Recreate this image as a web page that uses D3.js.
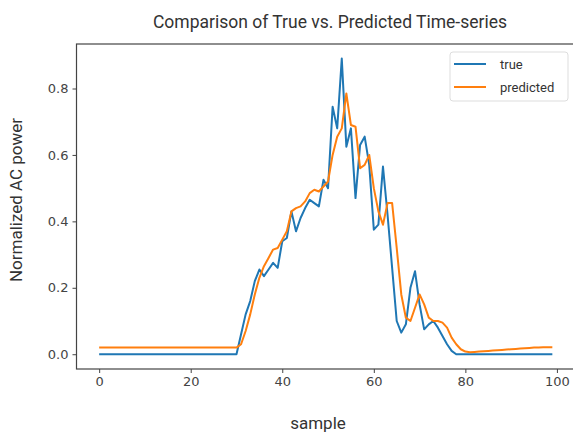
<!DOCTYPE html>
<html>
<head>
<meta charset="utf-8">
<script src="https://cdn.jsdelivr.net/npm/d3@7"></script>
<style>
  body { margin: 0; background: #fff; }
  svg { display: block; }
</style>
</head>
<body>
<svg id="chart"></svg>
<script>
// values, one per sample (0..99)
var trueVals = [
  0, 0, 0, 0, 0, 0, 0, 0, 0, 0,
  0, 0, 0, 0, 0, 0, 0, 0, 0, 0,
  0, 0, 0, 0, 0, 0, 0, 0, 0, 0,
  0, 0.06, 0.12, 0.16, 0.22, 0.255, 0.235, 0.255, 0.275, 0.26,
  0.34, 0.35, 0.43, 0.37, 0.41, 0.44, 0.465, 0.455, 0.445, 0.525,
  0.50, 0.745, 0.68, 0.89, 0.625, 0.68, 0.47, 0.63, 0.655, 0.57,
  0.375, 0.39, 0.565, 0.42, 0.26, 0.10, 0.065, 0.09, 0.20, 0.25,
  0.15, 0.075, 0.09, 0.10, 0.08, 0.055, 0.03, 0.01, 0, 0,
  0, 0, 0, 0, 0, 0, 0, 0, 0, 0,
  0, 0, 0, 0, 0, 0, 0, 0, 0, 0
];
var predVals = [
  0.02, 0.02, 0.02, 0.02, 0.02, 0.02, 0.02, 0.02, 0.02, 0.02,
  0.02, 0.02, 0.02, 0.02, 0.02, 0.02, 0.02, 0.02, 0.02, 0.02,
  0.02, 0.02, 0.02, 0.02, 0.02, 0.02, 0.02, 0.02, 0.02, 0.02,
  0.02, 0.03, 0.07, 0.12, 0.18, 0.23, 0.265, 0.29, 0.315, 0.32,
  0.345, 0.37, 0.43, 0.44, 0.445, 0.46, 0.485, 0.495, 0.49, 0.505,
  0.52, 0.60, 0.655, 0.68, 0.785, 0.69, 0.685, 0.56, 0.57, 0.60,
  0.50, 0.43, 0.39, 0.455, 0.455, 0.32, 0.18, 0.11, 0.10, 0.14,
  0.18, 0.15, 0.11, 0.10, 0.10, 0.095, 0.08, 0.05, 0.03, 0.015,
  0.008, 0.006, 0.007, 0.008, 0.009, 0.01, 0.011, 0.012, 0.013, 0.014,
  0.015, 0.016, 0.017, 0.018, 0.019, 0.02, 0.02, 0.021, 0.021, 0.021
];
var xTicks = [0, 20, 40, 60, 80, 100];
var yTicks = [0.0, 0.2, 0.4, 0.6, 0.8];
var seriesNames = ["true", "predicted"];
var seriesColors = ["#1f77b4", "#ff7f0e"];

var svgWidth = 573, svgHeight = 433;
var margin = {left: 76.5, right: 575, top: 44, bottom: 369};

var svg = d3.select("#chart")
    .attr("width", svgWidth)
    .attr("height", svgHeight);

var x = d3.scaleLinear().domain([-4.95, 103.95]).range([margin.left, margin.right]);
var y = d3.scaleLinear().domain([-0.0445, 0.934]).range([margin.bottom, margin.top]);

// frame
svg.append("rect")
    .attr("x", margin.left).attr("y", margin.top)
    .attr("width", margin.right - margin.left).attr("height", margin.bottom - margin.top)
    .attr("fill", "none")
    .attr("stroke", "#444")
    .attr("stroke-width", 1.2);

var tickFont = "'DejaVu Sans', sans-serif";

var xAxis = svg.append("g")
    .attr("transform", "translate(0," + margin.bottom + ")")
    .call(d3.axisBottom(x).tickValues(xTicks).tickSize(4).tickPadding(4).tickFormat(d3.format("d")));
xAxis.select(".domain").remove();
xAxis.selectAll("line").attr("stroke", "#444");
xAxis.selectAll("text")
    .attr("fill", "#444")
    .style("font-family", tickFont)
    .style("font-size", "13px");

var yAxis = svg.append("g")
    .attr("transform", "translate(" + margin.left + ",0)")
    .call(d3.axisLeft(y).tickValues(yTicks).tickSize(4).tickPadding(4).tickFormat(d3.format(".1f")));
yAxis.select(".domain").remove();
yAxis.selectAll("line").attr("stroke", "#444");
yAxis.selectAll("text")
    .attr("fill", "#444")
    .style("font-family", tickFont)
    .style("font-size", "13px");

// lines
var line = d3.line()
    .x(function (d, i) { return x(i); })
    .y(function (d) { return y(d); });

[trueVals, predVals].forEach(function (vals, k) {
    svg.append("path")
        .datum(vals)
        .attr("fill", "none")
        .attr("stroke", seriesColors[k])
        .attr("stroke-width", 2)
        .attr("stroke-linejoin", "round")
        .attr("d", line);
});

// titles
svg.append("text")
    .attr("x", 330).attr("y", 28)
    .attr("text-anchor", "middle")
    .attr("fill", "#333")
    .style("font-family", "Roboto, sans-serif")
    .style("font-size", "17.5px")
    .text("Comparison of True vs. Predicted Time-series");

svg.append("text")
    .attr("x", 318).attr("y", 429)
    .attr("text-anchor", "middle")
    .attr("fill", "#333")
    .style("font-family", "Roboto, sans-serif")
    .style("font-size", "17px")
    .text("sample");

svg.append("text")
    .attr("transform", "translate(22,200) rotate(-90)")
    .attr("text-anchor", "middle")
    .attr("fill", "#333")
    .style("font-family", "Roboto, sans-serif")
    .style("font-size", "17px")
    .text("Normalized AC power");

// legend
var legend = svg.append("g").attr("transform", "translate(450,52)");
legend.append("rect")
    .attr("width", 118).attr("height", 49)
    .attr("rx", 3)
    .attr("fill", "#fff")
    .attr("stroke", "#ddd");
seriesNames.forEach(function (name, k) {
    var ly = 12 + k * 23;
    legend.append("line")
        .attr("x1", 4).attr("x2", 36)
        .attr("y1", ly).attr("y2", ly)
        .attr("stroke", seriesColors[k])
        .attr("stroke-width", 2);
    legend.append("text")
        .attr("x", 50).attr("y", ly + 4.5)
        .attr("fill", "#333")
        .style("font-family", "Roboto, sans-serif")
        .style("font-size", "13px")
        .text(name);
});
</script>
</body>
</html>
